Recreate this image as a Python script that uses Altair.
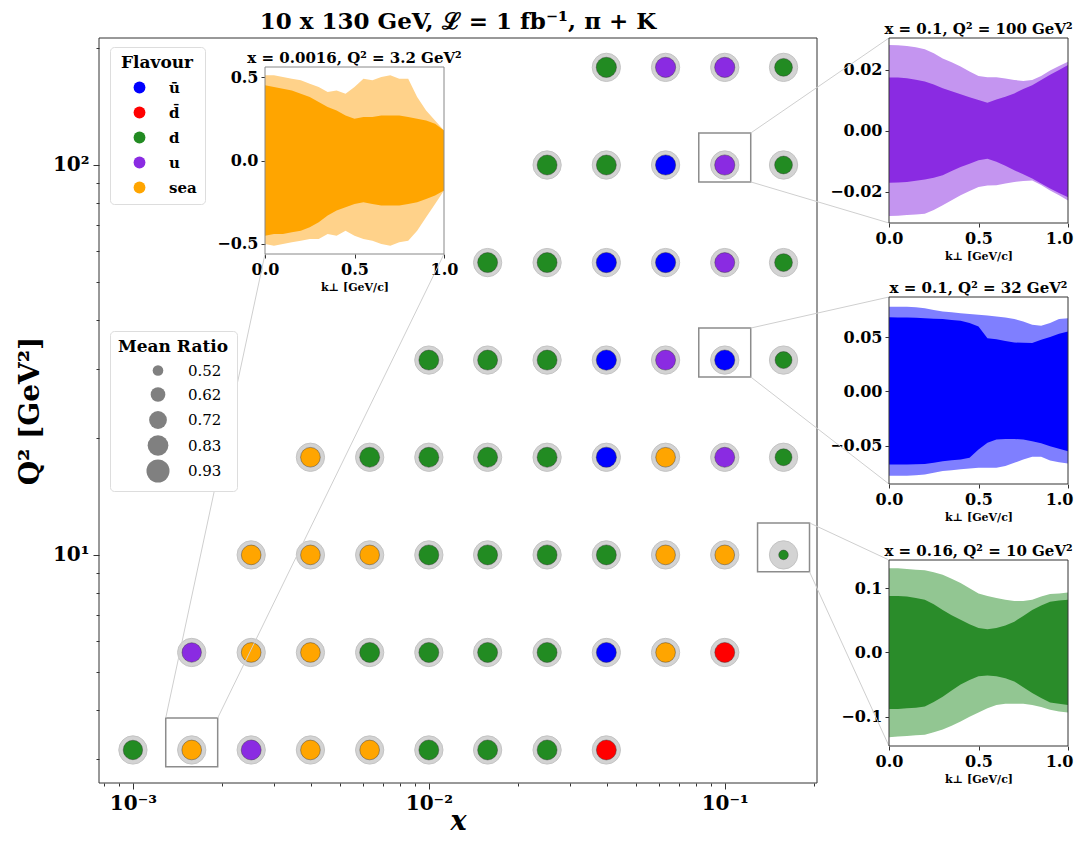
import math
import altair as alt
import pandas as pd

FONT = "DejaVu Serif"
W, H = 1066, 829

# ---------------- main grid data ----------------
x_bins = [0.001, 0.00158, 0.00251, 0.00398, 0.00631, 0.01, 0.0158, 0.0251, 0.0398, 0.0631, 0.1, 0.158]
q2_rows = [3.16, 5.62, 10.0, 17.8, 31.6, 56.2, 100.0, 178.0]
row_first_bin = [0, 1, 2, 3, 5, 6, 7, 8]
row_flavours = [
    ["d", "sea", "u", "sea", "sea", "d", "d", "d", "d̄"],
    ["u", "sea", "sea", "d", "d", "d", "d", "ū", "sea", "d̄"],
    ["sea", "sea", "sea", "d", "d", "d", "d", "sea", "sea", "d"],
    ["sea", "d", "d", "d", "d", "ū", "sea", "u", "d"],
    ["d", "d", "d", "ū", "u", "ū", "d"],
    ["d", "d", "ū", "ū", "u", "d"],
    ["d", "d", "ū", "u", "d"],
    ["d", "u", "u", "d"],
]
row_ratios = [
    [0.78, 0.79, 0.80, 0.79, 0.79, 0.80, 0.80, 0.80, 0.80],
    [0.78, 0.79, 0.79, 0.80, 0.80, 0.80, 0.80, 0.80, 0.79, 0.80],
    [0.79, 0.79, 0.79, 0.80, 0.80, 0.80, 0.80, 0.79, 0.79, 0.50],
    [0.79, 0.80, 0.80, 0.80, 0.80, 0.81, 0.79, 0.80, 0.69],
    [0.80, 0.80, 0.80, 0.81, 0.80, 0.81, 0.69],
    [0.80, 0.80, 0.81, 0.81, 0.80, 0.72],
    [0.80, 0.80, 0.81, 0.81, 0.72],
    [0.81, 0.81, 0.81, 0.72],
]
flavour_order = ["ū", "d̄", "d", "u", "sea"]
flavour_colors = ["#0000ff", "#ff0000", "#228b22", "#8a2be2", "#ffa500"]
ratio_legend_values = [0.52, 0.62, 0.72, 0.83, 0.93]

# points that get a zoom panel
zoom_x = [0.00158, 0.1, 0.1, 0.158]
zoom_q2 = [3.16, 100.0, 31.6, 10.0]

# ---------------- panel data ----------------
k_grid = [0.00, 0.05, 0.10, 0.15, 0.20, 0.25, 0.30, 0.35, 0.40, 0.45, 0.50,
          0.55, 0.60, 0.65, 0.70, 0.75, 0.80, 0.85, 0.90, 0.95, 1.00]

sea_out_hi = [0.51, 0.51, 0.50, 0.49, 0.48, 0.46, 0.44, 0.41, 0.42, 0.40, 0.44,
              0.49, 0.48, 0.50, 0.51, 0.49, 0.49, 0.38, 0.30, 0.24, 0.18]
sea_in_hi = [0.45, 0.44, 0.43, 0.42, 0.40, 0.38, 0.35, 0.32, 0.30, 0.27, 0.25,
             0.26, 0.26, 0.27, 0.27, 0.27, 0.26, 0.25, 0.24, 0.22, 0.18]
sea_in_lo = [-0.45, -0.44, -0.44, -0.43, -0.42, -0.40, -0.37, -0.33, -0.30, -0.28, -0.26,
             -0.25, -0.26, -0.27, -0.27, -0.27, -0.26, -0.25, -0.23, -0.21, -0.18]
sea_out_lo = [-0.50, -0.51, -0.50, -0.49, -0.48, -0.47, -0.47, -0.44, -0.45, -0.42, -0.45,
              -0.47, -0.48, -0.50, -0.51, -0.49, -0.48, -0.42, -0.34, -0.26, -0.18]

u_out_hi = [0.0282, 0.0281, 0.0279, 0.0275, 0.0268, 0.0255, 0.0238, 0.0225, 0.0211, 0.0195, 0.0180,
            0.0176, 0.0176, 0.0172, 0.0167, 0.0164, 0.0167, 0.0180, 0.0198, 0.0213, 0.0227]
u_in_hi = [0.0175, 0.0175, 0.0173, 0.0168, 0.0162, 0.0152, 0.0140, 0.0130, 0.0120, 0.0110, 0.0101,
           0.0092, 0.0103, 0.0112, 0.0123, 0.0137, 0.0150, 0.0167, 0.0184, 0.0200, 0.0216]
u_in_lo = [-0.0171, -0.0170, -0.0168, -0.0164, -0.0160, -0.0154, -0.0146, -0.0132, -0.0119, -0.0108, -0.0097,
           -0.0092, -0.0102, -0.0115, -0.0130, -0.0143, -0.0157, -0.0173, -0.0190, -0.0204, -0.0218]
u_out_lo = [-0.0280, -0.0279, -0.0277, -0.0275, -0.0273, -0.0260, -0.0245, -0.0228, -0.0212, -0.0198, -0.0185,
            -0.0180, -0.0179, -0.0173, -0.0168, -0.0165, -0.0163, -0.0178, -0.0196, -0.0212, -0.0229]

ub_out_hi = [0.078, 0.078, 0.078, 0.0775, 0.0767, 0.075, 0.0736, 0.073, 0.072, 0.0713, 0.0706,
             0.070, 0.069, 0.068, 0.0666, 0.0644, 0.0613, 0.0604, 0.063, 0.0666, 0.0675]
ub_in_hi = [0.0684, 0.0682, 0.068, 0.0678, 0.0675, 0.067, 0.0666, 0.0658, 0.065, 0.063, 0.0598,
            0.049, 0.048, 0.0465, 0.045, 0.0447, 0.0445, 0.0475, 0.050, 0.053, 0.0552]
ub_in_lo = [-0.0675, -0.0675, -0.0675, -0.0672, -0.067, -0.066, -0.0644, -0.0636, -0.0629, -0.0613, -0.0537,
            -0.0475, -0.0445, -0.0440, -0.0439, -0.0445, -0.046, -0.048, -0.0506, -0.053, -0.0552]
ub_out_lo = [-0.078, -0.078, -0.078, -0.0775, -0.0767, -0.0752, -0.0736, -0.0728, -0.072, -0.0713, -0.0706,
             -0.0706, -0.0706, -0.069, -0.066, -0.063, -0.0604, -0.0604, -0.0638, -0.0655, -0.0666]

d_out_hi = [0.131, 0.131, 0.130, 0.129, 0.128, 0.125, 0.121, 0.115, 0.108, 0.100, 0.092,
            0.088, 0.085, 0.082, 0.080, 0.080, 0.082, 0.087, 0.091, 0.092, 0.0935]
d_in_hi = [0.088, 0.088, 0.087, 0.085, 0.082, 0.075, 0.066, 0.058, 0.051, 0.044, 0.038,
           0.036, 0.038, 0.042, 0.048, 0.057, 0.066, 0.073, 0.079, 0.081, 0.082]
d_in_lo = [-0.088, -0.088, -0.087, -0.086, -0.084, -0.077, -0.069, -0.059, -0.050, -0.043, -0.037,
           -0.036, -0.037, -0.040, -0.045, -0.054, -0.063, -0.071, -0.078, -0.080, -0.0816]
d_out_lo = [-0.132, -0.131, -0.130, -0.129, -0.128, -0.124, -0.120, -0.114, -0.1075, -0.100, -0.0935,
            -0.087, -0.0816, -0.080, -0.080, -0.080, -0.0816, -0.085, -0.089, -0.092, -0.0935]

# ---------------- layout (pixels inside the chart) ----------------
MAIN_X_DOMAIN = [7.68e-4, 0.205]
MAIN_Y_DOMAIN = [2.60, 211.7]
MAIN_X_RANGE = [91, 809]
MAIN_Y_RANGE = [775, 30]
RECT_FX, RECT_FY_LO, RECT_FY_HI = 1.224, 0.905, 1.208
# panel boxes: left, right, top, bottom
BOX_TL = (257, 436, 59, 246)
BOX_P1 = (881, 1060, 30, 215)
BOX_P2 = (881, 1060, 289, 476)
BOX_P3 = (881, 1060, 552, 738)


def mx(v):
    a, b = math.log10(MAIN_X_DOMAIN[0]), math.log10(MAIN_X_DOMAIN[1])
    return MAIN_X_RANGE[0] + (math.log10(v) - a) / (b - a) * (MAIN_X_RANGE[1] - MAIN_X_RANGE[0])


def my(v):
    a, b = math.log10(MAIN_Y_DOMAIN[0]), math.log10(MAIN_Y_DOMAIN[1])
    return MAIN_Y_RANGE[0] + (math.log10(v) - a) / (b - a) * (MAIN_Y_RANGE[1] - MAIN_Y_RANGE[0])


# ---------------- main chart ----------------
rows = []
for q2, first, flavs, rats in zip(q2_rows, row_first_bin, row_flavours, row_ratios):
    for j, (f, r) in enumerate(zip(flavs, rats)):
        rows.append({"x": x_bins[first + j], "q2": q2, "flav": f, "ratio": r})
pts = pd.DataFrame(rows)

MAJOR = "abs(log(datum.value)/LN10 - round(log(datum.value)/LN10)) < 0.001"
x_ticks = [8e-4, 9e-4, 1e-3] + [i * 1e-3 for i in range(2, 10)] + [0.01] + \
          [i * 1e-2 for i in range(2, 10)] + [0.1, 0.2]
y_ticks = [3, 4, 5, 6, 7, 8, 9, 10, 20, 30, 40, 50, 60, 70, 80, 90, 100, 200]
LX = "round(log(datum.value)/LN10*1000)"

main_xaxis = alt.Axis(
    orient="bottom", offset=MAIN_Y_RANGE[0] - H, values=x_ticks,
    labelExpr=f"{LX} == -3000 ? '10⁻³' : {LX} == -2000 ? '10⁻²' : {LX} == -1000 ? '10⁻¹' : ''",
    tickSize={"condition": {"test": MAJOR, "value": 6}, "value": 3},
    grid=False, domain=False, labelOverlap=False, labelFlush=False,
    labelFont=FONT, labelFontWeight="bold", labelFontSize=20, labelPadding=4,
    tickColor="#333", labelColor="black",
    titleFont=FONT, titleFontStyle="italic", titleFontWeight="bold", titleFontSize=27,
    titleBaseline="alphabetic", titleY=46, titleColor="black")
main_yaxis = alt.Axis(
    orient="left", offset=-MAIN_X_RANGE[0], values=y_ticks,
    labelExpr=f"{LX} == 1000 ? '10¹' : {LX} == 2000 ? '10²' : ''",
    tickSize={"condition": {"test": MAJOR, "value": 6}, "value": 3},
    grid=False, domain=False, labelOverlap=False, labelFlush=False,
    labelFont=FONT, labelFontWeight="bold", labelFontSize=20, labelPadding=4,
    tickColor="#333", labelColor="black",
    titleFont=FONT, titleFontWeight="bold", titleFontSize=28, titlePadding=8, titleColor="black")

main_xs = alt.Scale(type="log", domain=MAIN_X_DOMAIN, range=MAIN_X_RANGE, nice=False)
main_ys = alt.Scale(type="log", domain=MAIN_Y_DOMAIN, range=MAIN_Y_RANGE, nice=False)


def MX(field):
    return alt.X(field, type="quantitative", scale=main_xs, axis=main_xaxis, title="x")


def MY(field):
    return alt.Y(field, type="quantitative", scale=main_ys, axis=main_yaxis, title="Q² [GeV²]")


frame_df = pd.DataFrame({"x0": [MAIN_X_DOMAIN[0]], "x1": [MAIN_X_DOMAIN[1]],
                         "y0": [MAIN_Y_DOMAIN[0]], "y1": [MAIN_Y_DOMAIN[1]]})
main_frame = alt.Chart(frame_df).mark_rect(fillOpacity=0, stroke="#333", strokeWidth=1).encode(
    x=MX("x0"), x2="x1", y=MY("y0"), y2="y1")

halo = alt.Chart(pts).mark_circle(color="#d3d3d3", opacity=1, size=800,
                                  stroke="#c4c4c4", strokeWidth=1).encode(x=MX("x"), y=MY("q2"))

dots = alt.Chart(pts).mark_circle(opacity=1, stroke="#333", strokeWidth=0.6, strokeOpacity=0.7).encode(
    x=MX("x"), y=MY("q2"),
    color=alt.Color("flav:N", scale=alt.Scale(domain=flavour_order, range=flavour_colors),
                    legend=alt.Legend(
                        title="Flavour", orient="none", legendX=102, legendY=39,
                        titleFont=FONT, titleFontSize=17, titleFontWeight="bold", titleColor="black",
                        titleAnchor="middle", titlePadding=8,
                        labelFont=FONT, labelFontSize=15, labelFontWeight="bold", labelColor="black",
                        symbolType="circle", symbolSize=140, symbolStrokeWidth=0, symbolOpacity=1,
                        symbolOffset=14, labelOffset=22, rowPadding=9, padding=8,
                        strokeColor="#dddddd", fillColor="white", cornerRadius=4)),
    size=alt.Size("ratio:Q", scale=alt.Scale(domain=[0.52, 0.93], range=[113, 531]),
                  legend=alt.Legend(
                      title="Mean Ratio", orient="none", legendX=102, legendY=323,
                      values=ratio_legend_values, format=".2f",
                      titleFont=FONT, titleFontSize=17, titleFontWeight="bold", titleColor="black",
                      titleAnchor="middle", titlePadding=7,
                      labelFont=FONT, labelFontSize=15, labelColor="black",
                      symbolType="circle", symbolFillColor="#808080", symbolStrokeWidth=0,
                      symbolOpacity=1, symbolOffset=22, labelOffset=18,
                      gridAlign="all", rowPadding=0, padding=8,
                      strokeColor="#dddddd", fillColor="white", cornerRadius=4)),
)

zoom_df = pd.DataFrame({"xlo": [v / RECT_FX for v in zoom_x], "xhi": [v * RECT_FX for v in zoom_x],
                        "ylo": [v * RECT_FY_LO for v in zoom_q2], "yhi": [v * RECT_FY_HI for v in zoom_q2]})
zoom_rects = alt.Chart(zoom_df).mark_rect(fillOpacity=0, stroke="#8c8c8c", strokeWidth=1.5).encode(
    x=MX("xlo"), x2="xhi", y=MY("ylo"), y2="yhi")

title_df = pd.DataFrame({"x": [math.sqrt(MAIN_X_DOMAIN[0] * MAIN_X_DOMAIN[1])], "y": [MAIN_Y_DOMAIN[1]],
                         "t": ["10 x 130 GeV, ℒ = 1 fb⁻¹, π + K"]})
main_title = alt.Chart(title_df).mark_text(font=FONT, fontWeight="bold", fontSize=23, baseline="alphabetic",
                                           dy=-9, color="black").encode(x=MX("x"), y=MY("y"), text="t:N")

main = alt.layer(main_frame, halo, dots, zoom_rects, main_title)

# ---------------- connector lines (pixel space) ----------------
conn_rows = []
tl_xl, tl_xr = mx(zoom_x[0] / RECT_FX), mx(zoom_x[0] * RECT_FX)
tl_yt = my(zoom_q2[0] * RECT_FY_HI)
conn_rows.append((tl_xl, tl_yt, BOX_TL[0], BOX_TL[3]))
conn_rows.append((tl_xr, tl_yt, BOX_TL[1], BOX_TL[3]))
for (zx, zq), box in zip(list(zip(zoom_x, zoom_q2))[1:], [BOX_P1, BOX_P2, BOX_P3]):
    xr = mx(zx * RECT_FX)
    conn_rows.append((xr, my(zq * RECT_FY_HI), box[0], box[2]))
    conn_rows.append((xr, my(zq * RECT_FY_LO), box[0], box[3]))
conn_df = pd.DataFrame(conn_rows, columns=["x1", "y1", "x2", "y2"])
conn = alt.Chart(conn_df).mark_rule(color="#cfcfcf", strokeWidth=1).encode(
    x=alt.X("x1:Q", scale=alt.Scale(domain=[0, W], range=[0, W], nice=False, zero=False), axis=None),
    x2="x2:Q",
    y=alt.Y("y1:Q", scale=alt.Scale(domain=[0, H], range=[0, H], nice=False, zero=False), axis=None),
    y2="y2:Q")


# ---------------- panels ----------------
def panel(out_lo, out_hi, in_lo, in_hi, dark, light, ydom, box, yticks, yfmt, title, frame_color,
          edge_right=False):
    left, right, top, bottom = box
    df = pd.DataFrame({"k": k_grid, "ol": out_lo, "oh": out_hi, "il": in_lo, "ih": in_hi})
    xs = alt.Scale(domain=[0, 1], range=[left, right], nice=False, zero=False)
    ys = alt.Scale(domain=ydom, range=[bottom, top], nice=False, zero=False)
    extra = {}
    if edge_right:
        extra = dict(
            labelAlign={"condition": {"test": "datum.value == 1", "value": "right"}, "value": "center"},
            labelOffset={"condition": {"test": "datum.value == 1", "value": 5}, "value": 0})
    xaxis = alt.Axis(orient="bottom", offset=bottom - H, values=[0, 0.5, 1], format=".1f",
                     grid=False, domain=False, labelFlush=False, labelOverlap=False,
                     tickSize=4, tickColor="#333", labelColor="black",
                     labelFont=FONT, labelFontWeight="bold", labelFontSize=16, labelPadding=3,
                     titleFont=FONT, titleFontWeight="bold", titleFontSize=11, titlePadding=4,
                     titleColor="black", **extra)
    yaxis = alt.Axis(orient="left", offset=-left, values=yticks, format=yfmt,
                     grid=False, domain=False, labelFlush=False, labelOverlap=False,
                     tickSize=4, tickColor="#333", labelColor="black",
                     labelFont=FONT, labelFontWeight="bold", labelFontSize=16, labelPadding=3)

    def PX(f):
        return alt.X(f, type="quantitative", scale=xs, axis=xaxis, title="k⊥ [GeV/c]")

    def PY(f):
        return alt.Y(f, type="quantitative", scale=ys, axis=yaxis, title=None)

    base = alt.Chart(df)
    outer = base.mark_area(color=light, opacity=1).encode(x=PX("k"), y=PY("ol"), y2="oh")
    inner = base.mark_area(color=dark, opacity=1).encode(x=PX("k"), y=PY("il"), y2="ih")
    fdf = pd.DataFrame({"k0": [0], "k1": [1], "v0": [ydom[0]], "v1": [ydom[1]]})
    frame = alt.Chart(fdf).mark_rect(fillOpacity=0, stroke=frame_color, strokeWidth=1).encode(
        x=PX("k0"), x2="k1", y=PY("v0"), y2="v1")
    tdf = pd.DataFrame({"k": [0.5], "v": [ydom[1]], "t": [title]})
    ttl = alt.Chart(tdf).mark_text(font=FONT, fontWeight="bold", fontSize=15, baseline="alphabetic",
                                   dy=-4, color="black").encode(x=PX("k"), y=PY("v"), text="t:N")
    return alt.layer(outer, inner, frame, ttl)


p_tl = panel(sea_out_lo, sea_out_hi, sea_in_lo, sea_in_hi, "#ffa500", "#ffd28a",
             [-0.56, 0.56], BOX_TL, [-0.5, 0, 0.5], ".1f", "x = 0.0016, Q² = 3.2 GeV²", "#888888")
p_1 = panel(u_out_lo, u_out_hi, u_in_lo, u_in_hi, "#8a2be2", "#c495f0",
            [-0.0303, 0.0305], BOX_P1, [-0.02, 0, 0.02], ".2f", "x = 0.1, Q² = 100 GeV²", "#333333",
            edge_right=True)
p_2 = panel(ub_out_lo, ub_out_hi, ub_in_lo, ub_in_hi, "#0000ff", "#7f7fff",
            [-0.0855, 0.087], BOX_P2, [-0.05, 0, 0.05], ".2f", "x = 0.1, Q² = 32 GeV²", "#333333",
            edge_right=True)
p_3 = panel(d_out_lo, d_out_hi, d_in_lo, d_in_hi, "#2a8c2a", "#92c692",
            [-0.1456, 0.144], BOX_P3, [-0.1, 0, 0.1], ".1f", "x = 0.16, Q² = 10 GeV²", "#333333",
            edge_right=True)

chart = alt.layer(main, conn, p_tl, p_1, p_2, p_3).resolve_scale(
    x="independent", y="independent"
).properties(
    width=W, height=H, autosize=alt.AutoSizeParams(type="none"), padding=0
).configure_view(strokeWidth=0)

chart.save("out.html", embed_options={"renderer": "svg", "actions": False})
